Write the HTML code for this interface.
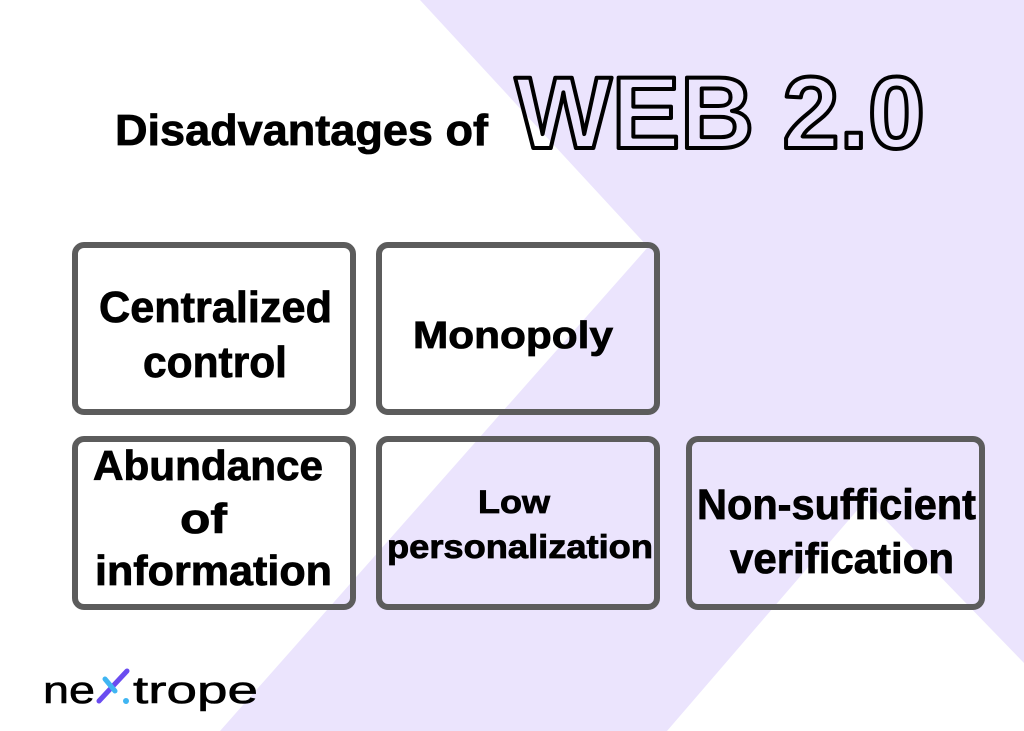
<!DOCTYPE html>
<html>
<head>
<meta charset="utf-8">
<style>
html,body{margin:0;padding:0;background:#fff;}
body{width:1024px;height:731px;overflow:hidden;}
svg{display:block;}
text{font-family:"Liberation Sans",Arial,sans-serif;}
</style>
</head>
<body>
<svg width="1024" height="731" viewBox="0 0 1024 731" xmlns="http://www.w3.org/2000/svg">
  <rect x="0" y="0" width="1024" height="731" fill="#ffffff"/>
  <polygon points="420,0 1024,0 1024,663 866,500 667,731 220,731 648,247" fill="#ebe4fd"/>

  <!-- Title -->
  <text x="115" y="145" font-size="44" font-weight="bold" fill="#000" stroke="#000" stroke-width="0.8" textLength="373" lengthAdjust="spacingAndGlyphs">Disadvantages of</text>
  <text x="515" y="148" font-size="102" font-weight="bold" fill="none" stroke="#000" stroke-width="4" stroke-linejoin="round" textLength="410" lengthAdjust="spacingAndGlyphs">WEB 2.0</text>

  <!-- Boxes -->
  <g fill="none" stroke="#5c5c5c" stroke-width="6">
    <rect x="75" y="245" width="278" height="167" rx="9"/>
    <rect x="379" y="245" width="278" height="167" rx="9"/>
    <rect x="75" y="439" width="278" height="168" rx="9"/>
    <rect x="379" y="439" width="278" height="168" rx="9"/>
    <rect x="689" y="439" width="293" height="168" rx="9"/>
  </g>

  <g font-weight="bold" fill="#000" stroke="#000" stroke-width="0.8">
    <text x="99" y="322" font-size="44" textLength="233" lengthAdjust="spacingAndGlyphs">Centralized</text>
    <text x="143" y="377" font-size="44" textLength="144" lengthAdjust="spacingAndGlyphs">control</text>

    <text x="413" y="348" font-size="38" textLength="200" lengthAdjust="spacingAndGlyphs">Monopoly</text>

    <text x="93" y="480" font-size="42" textLength="230" lengthAdjust="spacingAndGlyphs">Abundance</text>
    <text x="180" y="533" font-size="42" textLength="47" lengthAdjust="spacingAndGlyphs">of</text>
    <text x="95" y="585" font-size="42" textLength="237" lengthAdjust="spacingAndGlyphs">information</text>

    <text x="478" y="513" font-size="32" textLength="72" lengthAdjust="spacingAndGlyphs">Low</text>
    <text x="387" y="558" font-size="33" textLength="266" lengthAdjust="spacingAndGlyphs">personalization</text>

    <text x="697" y="519" font-size="43" textLength="279" lengthAdjust="spacingAndGlyphs">Non-sufficient</text>
    <text x="730" y="573" font-size="43" textLength="224" lengthAdjust="spacingAndGlyphs">verification</text>
  </g>

  <!-- Logo -->
  <g>
    <text x="43" y="703" font-size="38" fill="#000" stroke="#000" stroke-width="0.6" textLength="52" lengthAdjust="spacingAndGlyphs">ne</text>
    <line x1="99" y1="701" x2="127" y2="671" stroke="#6a4cf0" stroke-width="5" stroke-linecap="round"/>
    <line x1="105" y1="679" x2="115" y2="691" stroke="#3fb5f2" stroke-width="5" stroke-linecap="round"/>
    <circle cx="126" cy="701" r="3" fill="#3fb5f2"/>
    <text x="133" y="703" font-size="38" fill="#000" stroke="#000" stroke-width="0.6" textLength="125" lengthAdjust="spacingAndGlyphs">trope</text>
  </g>
</svg>
</body>
</html>
